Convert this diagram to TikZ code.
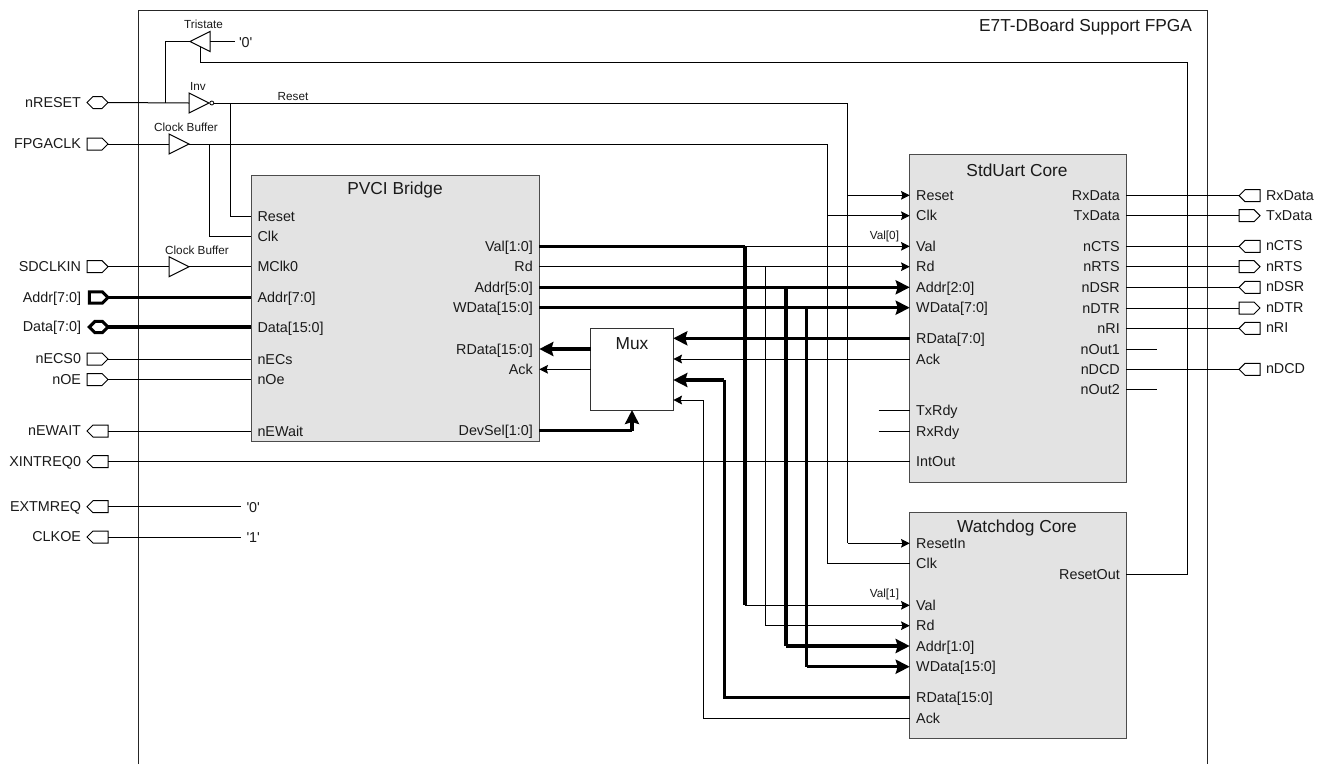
\documentclass[tikz,border=0pt]{standalone}
\usepackage{fontspec}
\usetikzlibrary{arrows.meta,shapes.geometric,shapes.symbols}
\newfontfamily\af{Liberation Sans}
\definecolor{corefill}{HTML}{E3E3E3}
\definecolor{ink}{HTML}{1A1A1A}
\newcommand\pinL[4]{\coordinate (#1) at (#2,#3);\node[pintext,anchor=base west] (#1t) at (#2+6.5,#3+5) {#4};}
\newcommand\pinR[4]{\coordinate (#1) at (#2,#3);\node[pintext,anchor=base east] (#1t) at (#2-6.5,#3+5) {#4};}
\tikzset{
  pintext/.style={font=\af\fontsize{10.76}{12}\selectfont,text=ink,inner sep=0pt,outer sep=0pt},
  smalltext/.style={font=\af\fontsize{8.8}{10}\selectfont,text=ink,inner sep=0pt,outer sep=0pt},
  titletext/.style={font=\af\fontsize{13}{15}\selectfont,text=ink,inner sep=0pt,outer sep=0pt},
  core/.style={draw=black!70,line width=.75pt,fill=corefill,anchor=north west,inner sep=0pt,outer sep=0pt},
  muxbox/.style={draw=black!80,line width=.75pt,fill=white,anchor=north west,inner sep=0pt,outer sep=0pt},
  sig/.style={draw=black,line width=.75pt},
  bus/.style={draw=black,line width=2.5pt},
  sigarrow/.style={sig,-{Stealth[length=6.5pt,width=6.5pt,inset=1pt]}},
  busarrow/.style={bus,-{Stealth[length=10.5pt,width=10.5pt,inset=1.5pt]}},
  portbase/.style={shape=signal,draw=black,line width=.75pt,fill=white,minimum width=15.75pt,minimum height=9pt,inner sep=0pt,outer sep=0pt,signal pointer angle=90},
  portin/.style={portbase,signal to=east,signal from=nowhere},
  portout/.style={portbase,signal to=west,signal from=nowhere},
  portbi/.style={portbase,signal to=east and west},
  thickport/.style={line width=2.3pt,minimum width=14pt,minimum height=8.5pt},
  gate/.style={shape=isosceles triangle,isosceles triangle stretches,draw=black,line width=.75pt,fill=white,minimum width=15pt,minimum height=15pt,inner sep=0pt,outer sep=0pt,anchor=apex},
  bubble/.style={shape=circle,draw=black,line width=.6pt,fill=white,minimum size=3pt,inner sep=0pt,outer sep=0pt}
}
\newcommand\lport[4]{\node[#3,anchor=east] (#1) at (108,#2) {};\node[pintext,anchor=base east] (#1t) at (81,#2+4.5) {#4};}
\newcommand\rport[4]{\node[#3,anchor=west] (#1) at (1239,#2) {};\node[pintext,anchor=base west] (#1t) at (1266,#2+4.5) {#4};}
\begin{document}
\begin{tikzpicture}[x=.75pt,y=-.75pt]
\useasboundingbox (0,0) rectangle (1326,764);
\fill[white] (0,0) rectangle (1326,764);
% FPGA frame
\coordinate (frameBL) at (138.3,764);
\coordinate (frameTL) at (138.3,10.5);
\coordinate (frameTR) at (1207.7,10.5);
\coordinate (frameBR) at (1207.7,764);
\draw[draw=black!85,line width=.75pt] (frameBL) -- (frameTL) -- (frameTR) -- (frameBR);
\node[pintext,font=\af\fontsize{13}{15}\selectfont,anchor=base east] (fpgaTitle) at (1192,31) {E7T-DBoard Support FPGA};
% Vertical bus rails
\coordinate (railRstOut) at (1187.3,0);
\coordinate (railAck) at (703.7,0);
\coordinate (railRData) at (724.3,0);
\coordinate (railVal) at (745,0);
\coordinate (railRd) at (765.5,0);
\coordinate (railAddr) at (786,0);
\coordinate (railWData) at (806.5,0);
\coordinate (railClk) at (827.3,0);
\coordinate (railRst) at (847.8,0);
\coordinate (railBufClk) at (209.7,0);
\coordinate (railInvRst) at (230.7,0);
\coordinate (railTri) at (165,0);
\coordinate (enLeft) at (200.5,62);
\coordinate (enRight) at (1187.3,62);
% Core blocks
\node[core,minimum width=288pt*.75,minimum height=266pt*.75] (pvci) at (251,175) {};
\node[titletext] (pvciTitle) at (395,190) {PVCI Bridge};
\node[core,minimum width=216.6pt*.75,minimum height=328.3pt*.75] (uart) at (909.7,154) {};
\node[titletext] (uartTitle) at (1017,170) {StdUart Core};
\node[core,minimum width=216.6pt*.75,minimum height=225.5pt*.75] (wdog) at (909.7,512.8) {};
\node[titletext] (wdogTitle) at (1017,528) {Watchdog Core};
\node[muxbox,minimum width=82.6pt*.75,minimum height=81.7pt*.75] (mux) at (590.7,328.3) {};
\node[titletext] (muxTitle) at (632,344) {Mux};
% PVCI pins
\pinL{vReset}{251}{216}{Reset}
\pinL{vClk}{251}{236.5}{Clk}
\pinL{vMClk}{251}{266.7}{MClk0}
\pinL{vAddrIn}{251}{297.5}{Addr[7:0]}
\pinL{vData}{251}{327}{Data[15:0]}
\pinL{vECs}{251}{359}{nECs}
\pinL{vOe}{251}{379.5}{nOe}
\pinL{vWait}{251}{431}{nEWait}
\pinR{vVal}{539.3}{246.3}{Val[1:0]}
\pinR{vRd}{539.3}{266.7}{Rd}
\pinR{vAddr}{539.3}{287.3}{Addr[5:0]}
\pinR{vWData}{539.3}{307.7}{WData[15:0]}
\pinR{vRData}{539.3}{349}{RData[15:0]}
\pinR{vAck}{539.3}{369.3}{Ack}
\pinR{vDev}{539.3}{430.7}{DevSel[1:0]}
% UART pins
\pinL{uReset}{909.7}{195.3}{Reset}
\pinL{uClk}{909.7}{215.7}{Clk}
\pinL{uVal}{909.7}{246.3}{Val}
\pinL{uRd}{909.7}{266.7}{Rd}
\pinL{uAddr}{909.7}{287.3}{Addr[2:0]}
\pinL{uWData}{909.7}{307.7}{WData[7:0]}
\pinL{uRData}{909.7}{338.3}{RData[7:0]}
\pinL{uAck}{909.7}{359}{Ack}
\pinL{uTx}{909.7}{410}{TxRdy}
\pinL{uRx}{909.7}{431}{RxRdy}
\pinL{uInt}{909.7}{461.7}{IntOut}
\pinR{uRxD}{1126.3}{195.7}{RxData}
\pinR{uTxD}{1126.3}{215.7}{TxData}
\pinR{uCTS}{1126.3}{246.3}{nCTS}
\pinR{uRTS}{1126.3}{266.7}{nRTS}
\pinR{uDSR}{1126.3}{287.3}{nDSR}
\pinR{uDTR}{1126.3}{308}{nDTR}
\pinR{uRI}{1126.3}{328.3}{nRI}
\pinR{uOut1}{1126.3}{349}{nOut1}
\pinR{uDCD}{1126.3}{369.3}{nDCD}
\pinR{uOut2}{1126.3}{389.7}{nOut2}
% Watchdog pins
\pinL{wReset}{909.7}{543.3}{ResetIn}
\pinL{wClk}{909.7}{563.7}{Clk}
\pinL{wVal}{909.7}{605.3}{Val}
\pinL{wRd}{909.7}{625.7}{Rd}
\pinL{wAddr}{909.7}{646}{Addr[1:0]}
\pinL{wWData}{909.7}{666.7}{WData[15:0]}
\pinL{wRData}{909.7}{697.3}{RData[15:0]}
\pinL{wAck}{909.7}{718}{Ack}
\pinR{wOut}{1126.3}{574.3}{ResetOut}
% Mux pins
\coordinate (mVOutR) at (590.7,349);
\coordinate (mVOutA) at (590.7,369.3);
\coordinate (mU1) at (673.3,338.3);
\coordinate (mU2) at (673.3,359);
\coordinate (mW1) at (673.3,380);
\coordinate (mW2) at (673.3,400);
\coordinate (mSel) at (632,410);
% Left ports
\lport{pRESET}{102.5}{portbi}{nRESET}
\lport{pFPGACLK}{144}{portin}{FPGACLK}
\lport{pSDCLK}{266.7}{portin}{SDCLKIN}
\lport{pAddr}{297.5}{portin,thickport}{Addr[7:0]}
\lport{pData}{327}{portbi,thickport}{Data[7:0]}
\lport{pECS}{359}{portin}{nECS0}
\lport{pOE}{379.5}{portin}{nOE}
\lport{pWAIT}{431}{portout}{nEWAIT}
\lport{pXINT}{461.7}{portout}{XINTREQ0}
\lport{pEXTM}{506.7}{portout}{EXTMREQ}
\lport{pCLKOE}{537}{portout}{CLKOE}
% Right ports
\rport{qRxD}{195.7}{portout}{RxData}
\rport{qTxD}{215.7}{portin}{TxData}
\rport{qCTS}{246.3}{portout}{nCTS}
\rport{qRTS}{266.7}{portin}{nRTS}
\rport{qDSR}{287.3}{portout}{nDSR}
\rport{qDTR}{308}{portin}{nDTR}
\rport{qRI}{328.3}{portout}{nRI}
\rport{qDCD}{369.3}{portout}{nDCD}
% Gates
\node[gate,shape border rotate=180] (tri) at (190,41.5) {};
\node[gate] (inv) at (209,103) {};
\node[bubble] (invb) at (211.8,103) {};
\node[gate] (buf1) at (189,144) {};
\node[gate] (buf2) at (189,266.7) {};
\node[smalltext] (triLbl) at (203.5,24) {Tristate};
\node[smalltext] (invLbl) at (198,86) {Inv};
\node[smalltext] (buf1Lbl) at (186,127) {Clock Buffer};
\node[smalltext] (buf2Lbl) at (197,250) {Clock Buffer};
\node[smalltext] (rstLbl) at (293,97) {Reset};
\node[smalltext,anchor=east] (val0Lbl) at (899,236) {Val[0]};
\node[smalltext,anchor=east] (val1Lbl) at (899,594.5) {Val[1]};
% Constants and stubs
\coordinate (tri0) at (234.5,41.5);
\node[pintext,anchor=base west] (c0a) at (239,47) {'0'};
\coordinate (ext0) at (241,506.7);
\node[pintext,anchor=base west] (c0b) at (246.5,512) {'0'};
\coordinate (clk1) at (241,537);
\node[pintext,anchor=base west] (c1) at (246.5,542) {'1'};
\coordinate (txStub) at (878.7,410);
\coordinate (rxStub) at (878.7,431);
\coordinate (out1Stub) at (1157,349);
\coordinate (out2Stub) at (1157,389.7);
\coordinate (triEn) at (200.5,47);
% Input wiring
\draw[sig] (pRESET.east) -- (inv.lower side);
\draw[sig] (tri.apex) -- (railTri|-tri.apex) -- (railTri|-pRESET.east);
\draw[sig] (tri0) -- (tri.lower side);
\draw[sig] (pFPGACLK.east) -- (buf1.lower side);
\draw[sig] (pSDCLK.east) -- (buf2.lower side);
\draw[sig] (buf2.apex) -- (vMClk);
\draw[bus] (pAddr.east) -- (vAddrIn);
\draw[bus] (pData.east) -- (vData);
\draw[sig] (pECS.east) -- (vECs);
\draw[sig] (pOE.east) -- (vOe);
\draw[sig] (pWAIT.east) -- (vWait);
\draw[sig] (pXINT.east) -- (uInt);
\draw[sig] (pEXTM.east) -- (ext0);
\draw[sig] (pCLKOE.east) -- (clk1);
% Reset and clock distribution
\draw[sig] (invb.east) -- (railRst|-invb.east) -- (railRst|-wReset);
\draw[sigarrow] (railRst|-wReset) -- (wReset);
\draw[sigarrow] (railRst|-uReset) -- (uReset);
\draw[sig] (railInvRst|-invb.east) -- (railInvRst|-vReset) -- (vReset);
\draw[sig] (buf1.apex) -- (railClk|-buf1.apex) -- (railClk|-wClk) -- (wClk);
\draw[sigarrow] (railClk|-uClk) -- (uClk);
\draw[sig] (railBufClk|-buf1.apex) -- (railBufClk|-vClk) -- (vClk);
% Tristate enable from watchdog
\draw[sig] (triEn) -- (enLeft) -- (enRight) -- (railRstOut|-wOut) -- (wOut);
% PVCI to cores
\draw[bus] (vVal) -- (railVal|-vVal);
\draw[sigarrow] (railVal|-vVal) -- (uVal);
\draw[bus] (railVal|-vVal) -- (railVal|-wVal);
\draw[sigarrow] (railVal|-wVal) -- (wVal);
\draw[sigarrow] (vRd) -- (uRd);
\draw[sig] (railRd|-vRd) -- (railRd|-wRd);
\draw[sigarrow] (railRd|-wRd) -- (wRd);
\draw[busarrow] (vAddr) -- (uAddr);
\draw[bus] (railAddr|-vAddr) -- (railAddr|-wAddr);
\draw[busarrow] (railAddr|-wAddr) -- (wAddr);
\draw[busarrow] (vWData) -- (uWData);
\draw[bus] (railWData|-vWData) -- (railWData|-wWData);
\draw[busarrow] (railWData|-wWData) -- (wWData);
% Mux wiring
\draw[busarrow] (uRData) -- (mU1);
\draw[sigarrow] (uAck) -- (mU2);
\draw[bus] (wRData) -- (railRData|-wRData) -- (railRData|-mW1);
\draw[busarrow] (railRData|-mW1) -- (mW1);
\draw[sig] (wAck) -- (railAck|-wAck) -- (railAck|-mW2);
\draw[sigarrow] (railAck|-mW2) -- (mW2);
\draw[busarrow] (mVOutR) -- (vRData);
\draw[sigarrow] (mVOutA) -- (vAck);
\draw[bus] (vDev) -- (mSel|-vDev);
\draw[busarrow] (mSel|-vDev) -- (mSel);
% UART stubs and pads
\draw[sig] (txStub) -- (uTx);
\draw[sig] (rxStub) -- (uRx);
\draw[sig] (uOut1) -- (out1Stub);
\draw[sig] (uOut2) -- (out2Stub);
\draw[sig] (uRxD) -- (qRxD.west);
\draw[sig] (uTxD) -- (qTxD.west);
\draw[sig] (uCTS) -- (qCTS.west);
\draw[sig] (uRTS) -- (qRTS.west);
\draw[sig] (uDSR) -- (qDSR.west);
\draw[sig] (uDTR) -- (qDTR.west);
\draw[sig] (uRI) -- (qRI.west);
\draw[sig] (uDCD) -- (qDCD.west);
\end{tikzpicture}
\end{document}
